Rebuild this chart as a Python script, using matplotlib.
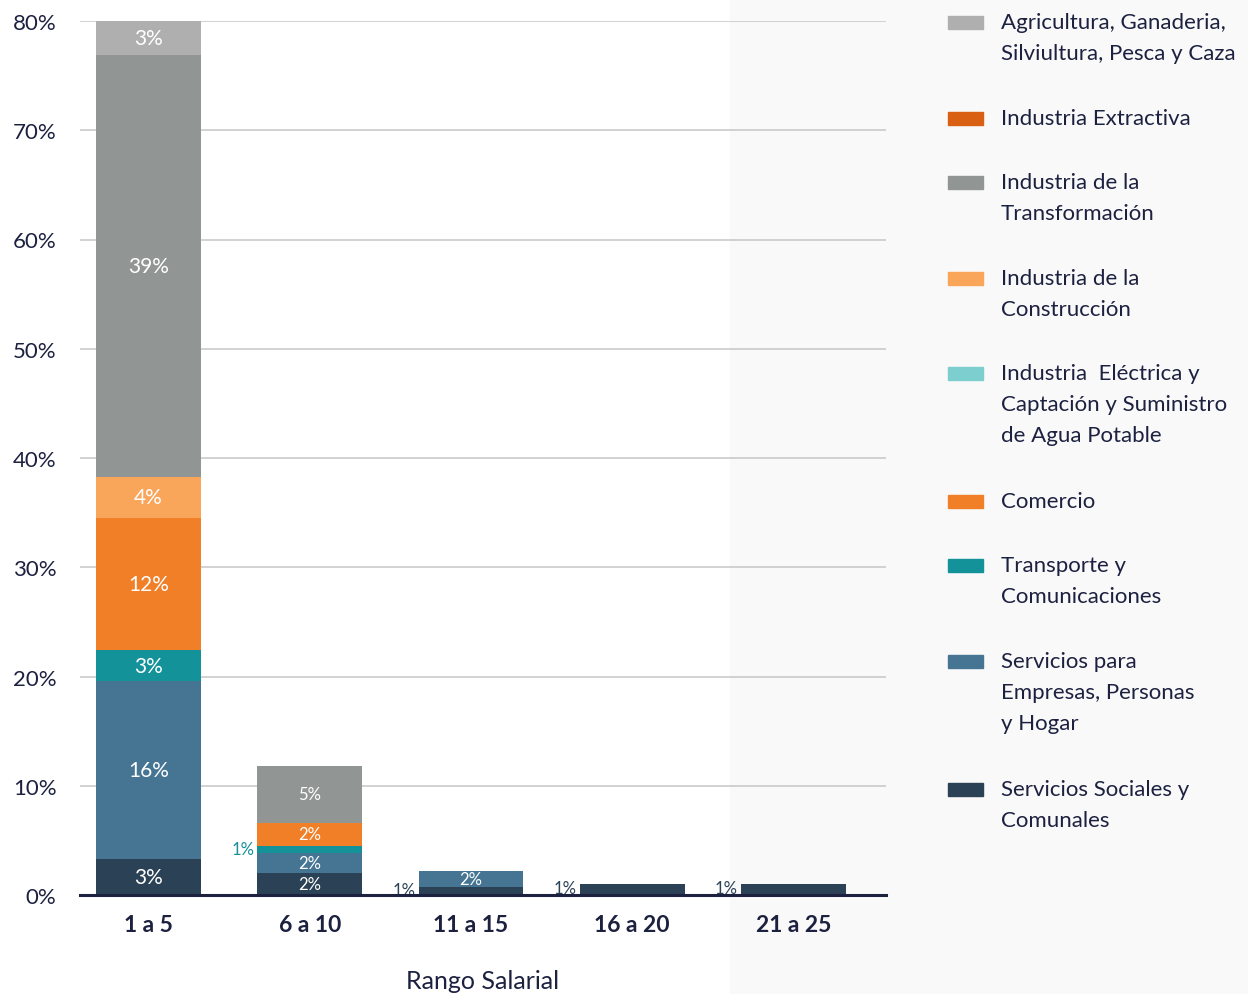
import numpy as np
import matplotlib
matplotlib.use("Agg")
import matplotlib.pyplot as plt
from matplotlib.patches import Rectangle

plt.rcParams['font.family'] = ['Lato', 'DejaVu Sans']

# Datos (porcentaje por rango salarial)
rangos = ["1 a 5", "6 a 10", "11 a 15", "16 a 20", "21 a 25"]

sectores = [
    "Servicios Sociales y\nComunales",
    "Servicios para\nEmpresas, Personas\ny Hogar",
    "Transporte y\nComunicaciones",
    "Comercio",
    "Industria  Eléctrica y\nCaptación y Suministro\nde Agua Potable",
    "Industria de la\nConstrucción",
    "Industria de la\nTransformación",
    "Industria Extractiva",
    "Agricultura, Ganaderia,\nSilviultura, Pesca y Caza",
]

servicios_sociales = [3.3, 2.0, 0.7, 1.0, 1.0]
servicios_empresas = [16.3, 1.8, 1.5, 0.0, 0.0]
transporte = [2.8, 0.7, 0.0, 0.0, 0.0]
comercio = [12.1, 2.1, 0.0, 0.0, 0.0]
electrica = [0.0, 0.0, 0.0, 0.0, 0.0]
construccion = [3.8, 0.0, 0.0, 0.0, 0.0]
transformacion = [38.6, 5.2, 0.0, 0.0, 0.0]
extractiva = [0.0, 0.0, 0.0, 0.0, 0.0]
agricultura = [3.1, 0.0, 0.0, 0.0, 0.0]

series = [servicios_sociales, servicios_empresas, transporte, comercio,
          electrica, construccion, transformacion, extractiva, agricultura]
colores = ["#2b4155", "#467594", "#13929a", "#f07f27", "#7dcfcf",
           "#f9a55a", "#919695", "#d95f12", "#afafaf"]

texto = "#1c2140"

fig = plt.figure(figsize=(12.48, 9.95), dpi=100)
fig.patches.append(Rectangle((730 / 1248, 0), 1 - 730 / 1248, 1,
                             transform=fig.transFigure, color="#f9f9f9", zorder=-10))

ax = fig.add_axes([80 / 1248, 1 - 896 / 995, (886 - 80) / 1248, (896 - 22) / 995])
ax.set_facecolor("none")

x = np.arange(len(rangos))
ancho = 0.65
base = np.zeros(len(rangos))
for vals, col in zip(series, colores):
    vals = np.array(vals)
    ax.bar(x, vals, ancho, bottom=base, color=col, zorder=3)
    for i, v in enumerate(vals):
        if v <= 0:
            continue
        etiqueta = "%d%%" % int(v + 0.5)
        yc = base[i] + v / 2
        if v < 1.2:
            ax.text(x[i] - ancho / 2 - 0.02, yc + 0.1, etiqueta, ha="right", va="center",
                    color=col, fontsize=12, zorder=4)
        else:
            ax.text(x[i], yc, etiqueta, ha="center", va="center", color="white",
                    fontsize=15 if i == 0 else 12, zorder=4)
    base += vals

ax.set_xlim(-0.425, 4.575)
ax.set_ylim(0, 80)
ax.set_yticks(np.arange(0, 81, 10))
ax.set_yticklabels(["%d%%" % t for t in range(0, 81, 10)])
ax.yaxis.grid(True, color="#c6c6c6", linewidth=1.1, zorder=0)
ax.set_axisbelow(True)
ax.tick_params(axis="y", length=0, pad=17, labelsize=16, labelcolor=texto)
ax.tick_params(axis="x", length=0, pad=14, labelsize=16.5, labelcolor=texto)
ax.set_xticks(x)
ax.set_xticklabels(rangos, fontweight="bold")
for s in ["left", "right", "top"]:
    ax.spines[s].set_visible(False)
ax.spines["bottom"].set_color(texto)
ax.spines["bottom"].set_linewidth(2.2)
ax.spines["bottom"].set_zorder(5)
ax.set_xlabel("Rango Salarial", fontsize=18, color=texto, labelpad=24)

# Leyenda manual
orden = [8, 7, 6, 5, 4, 3, 2, 1, 0]
ys = [23, 119, 183, 279, 374, 502, 566, 662, 790]
for k, yy in zip(orden, ys):
    fig.patches.append(Rectangle((948 / 1248, 1 - (yy + 7) / 995), 35 / 1248, 13 / 995,
                                 transform=fig.transFigure, color=colores[k]))
    fig.text(1001 / 1248, 1 - (yy - 10) / 995, sectores[k], ha="left", va="top",
             fontsize=16, color=texto, linespacing=1.68)

fig.savefig("out.png", dpi=100)
